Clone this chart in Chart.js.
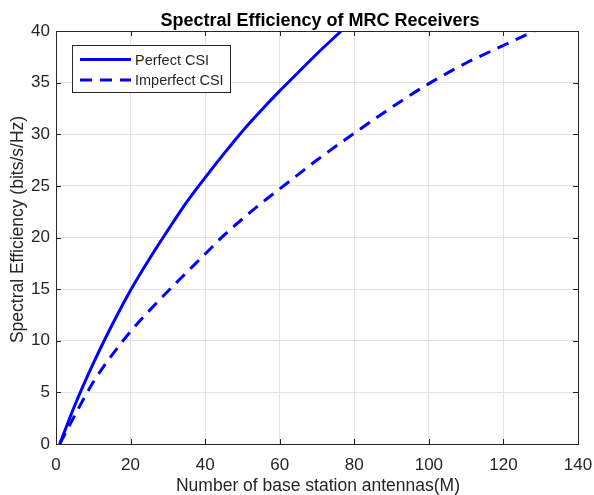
<!DOCTYPE html>
<html>
<head>
<meta charset="utf-8">
<script src="https://cdn.jsdelivr.net/npm/chart.js@4"></script>
<style>
  html, body { margin: 0; padding: 0; background: #fff; }
  #wrap { width: 594px; height: 495px; position: relative; }
</style>
</head>
<body>
<div id="wrap"><canvas id="chart-se"></canvas></div>
<script>
/* data */
const perfectM  = [1, 5, 10, 15, 20, 25, 30, 35, 40, 45, 50, 55, 60, 65, 70, 76.5];
const perfectSE = [0, 3.7, 7.8, 11.5, 14.9, 17.9, 20.7, 23.4, 25.8, 28.1, 30.3, 32.3, 34.2, 36.0, 37.8, 40];

const imperfectM  = [1, 5, 10, 15, 20, 25, 30, 35, 40, 45, 50, 55, 60, 70, 80, 90, 100, 110, 120, 128.3];
const imperfectSE = [0, 2.75, 6.0, 8.6, 10.9, 12.9, 14.8, 16.6, 18.4, 20.2, 21.8, 23.3, 24.7, 27.5, 30.1, 32.6, 34.9, 36.9, 38.6, 40];

const xTicks = [0, 20, 40, 60, 80, 100, 120, 140];
const yTicks = [0, 5, 10, 15, 20, 25, 30, 35, 40];

const FONT = '"Liberation Sans", Arial, Helvetica, sans-serif';
const AXIS = '#262626';
const BLUE = '#0000ff';

function toPoints(xs, ys) {
  return xs.map((x, i) => ({ x: x, y: ys[i] }));
}

/* ------------------------------
 * matlab-ish frame, inward ticks, titles, legend
 * ------------------------------ */
const matlabBox = {
  id: 'matlabBox',
  afterDraw(chart) {
    const { ctx, chartArea: a, scales } = chart;
    ctx.save();
    ctx.strokeStyle = AXIS;
    ctx.lineWidth = 1;
    ctx.strokeRect(a.left + 0.5, a.top + 0.5, a.right - a.left, a.bottom - a.top);

    const tl = 5;
    ctx.beginPath();
    xTicks.forEach(v => {
      const px = Math.round(scales.x.getPixelForValue(v)) + 0.5;
      ctx.moveTo(px, a.bottom); ctx.lineTo(px, a.bottom - tl);
      ctx.moveTo(px, a.top); ctx.lineTo(px, a.top + tl);
    });
    yTicks.forEach(v => {
      const py = Math.round(scales.y.getPixelForValue(v)) + 0.5;
      ctx.moveTo(a.left, py); ctx.lineTo(a.left + tl, py);
      ctx.moveTo(a.right, py); ctx.lineTo(a.right - tl, py);
    });
    ctx.stroke();

    // title
    ctx.fillStyle = '#000';
    ctx.font = 'bold 18px ' + FONT;
    ctx.textAlign = 'center';
    ctx.textBaseline = 'alphabetic';
    ctx.fillText('Spectral Efficiency of MRC Receivers', 320, 26);

    // axis titles
    ctx.fillStyle = AXIS;
    ctx.font = '17.5px ' + FONT;
    ctx.fillText('Number of base station antennas(M)', 318, 491);
    ctx.save();
    ctx.translate(23, 229.5);
    ctx.rotate(-Math.PI / 2);
    ctx.fillText('Spectral Efficiency (bits/s/Hz)', 0, 0);
    ctx.restore();

    // legend
    const lx = 72, ly = 45, lw = 158, lh = 47;
    ctx.fillStyle = '#fff';
    ctx.fillRect(lx, ly, lw, lh);
    ctx.strokeStyle = AXIS;
    ctx.lineWidth = 1;
    ctx.strokeRect(lx + 0.5, ly + 0.5, lw, lh);

    const rows = [59.5, 80];
    ctx.font = '14.5px ' + FONT;
    ctx.textAlign = 'left';
    ctx.textBaseline = 'middle';
    chart.data.datasets.forEach((ds, i) => {
      ctx.strokeStyle = ds.borderColor;
      ctx.lineWidth = ds.borderWidth;
      ctx.setLineDash(ds.borderDash || []);
      ctx.beginPath();
      ctx.moveTo(80, rows[i]);
      ctx.lineTo(131, rows[i]);
      ctx.stroke();
      ctx.setLineDash([]);
      ctx.fillStyle = AXIS;
      ctx.fillText(ds.label, 135, rows[i] + 1);
    });
    ctx.restore();
  }
};

const ctxSE = document.getElementById('chart-se');

new Chart(ctxSE, {
  type: 'scatter',
  plugins: [matlabBox],
  data: {
    datasets: [
      {
        label: 'Perfect CSI',
        data: toPoints(perfectM, perfectSE),
        showLine: true,
        borderColor: BLUE,
        borderWidth: 3,
        pointRadius: 0,
        cubicInterpolationMode: 'monotone'
      },
      {
        label: 'Imperfect CSI',
        data: toPoints(imperfectM, imperfectSE),
        showLine: true,
        borderColor: BLUE,
        borderWidth: 3,
        borderDash: [12, 8],
        pointRadius: 0,
        cubicInterpolationMode: 'monotone'
      }
    ]
  },
  options: {
    responsive: true,
    maintainAspectRatio: false,
    animation: false,
    layout: { padding: { top: 31, right: 16, left: 0, bottom: 0 } },
    scales: {
      x: {
        type: 'linear',
        min: 0, max: 140,
        afterFit: s => { s.height = 51; s.paddingLeft = 0; s.paddingRight = 0; },
        afterBuildTicks: s => { s.ticks = xTicks.map(v => ({ value: v })); },
        grid: { color: '#e3e3e3', drawTicks: false },
        border: { display: false },
        ticks: { color: AXIS, font: { family: FONT, size: 17 }, padding: 11, maxRotation: 0 }
      },
      y: {
        min: 0, max: 40,
        afterFit: s => { s.width = 56; s.paddingTop = 0; s.paddingBottom = 0; },
        afterBuildTicks: s => { s.ticks = yTicks.map(v => ({ value: v })); },
        grid: { color: '#e3e3e3', drawTicks: false },
        border: { display: false },
        ticks: { color: AXIS, font: { family: FONT, size: 17 }, padding: 6 }
      }
    },
    plugins: {
      legend: { display: false },
      tooltip: { enabled: false }
    }
  }
});
</script>
</body>
</html>
